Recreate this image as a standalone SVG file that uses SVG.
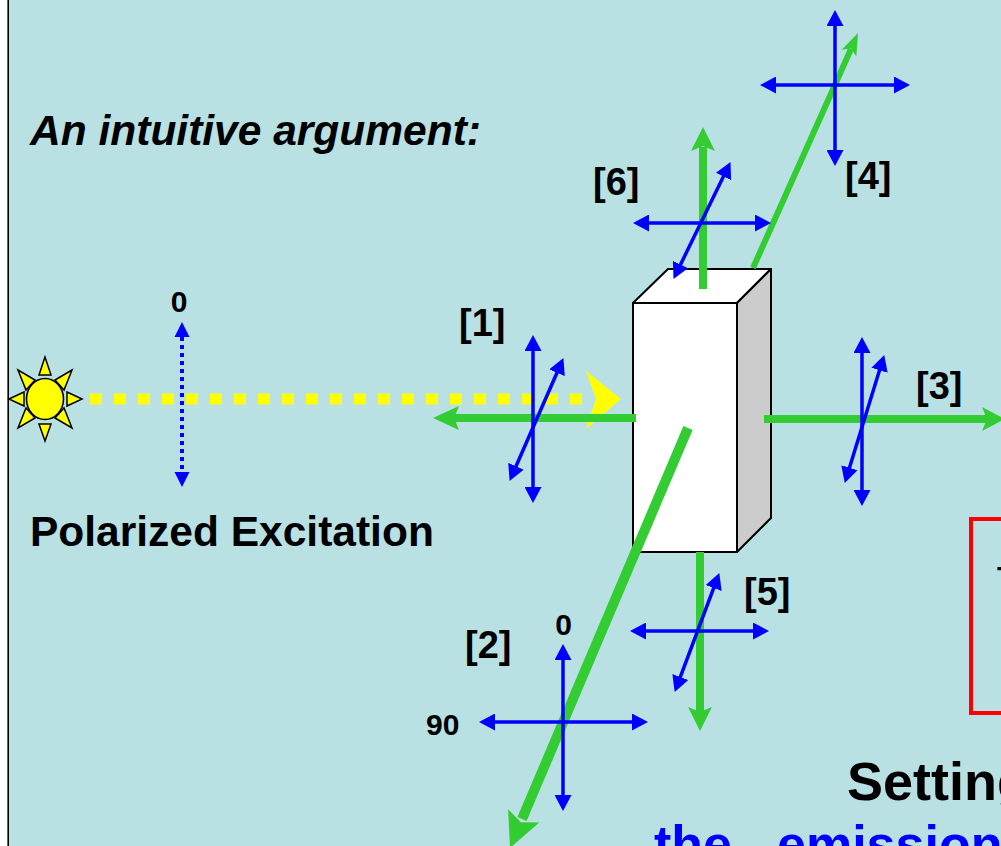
<svg xmlns="http://www.w3.org/2000/svg" width="1001" height="846" viewBox="0 0 1001 846">
  <defs>
    <style>
      .bg { fill: #B9E0E3; }
      .txt { font-family: "Liberation Sans", Arial, sans-serif; font-weight: bold; fill: #000; }
      .lbl { font-size: 38px; }
      .num { font-size: 30px; }
      .pol { stroke: #0000FF; stroke-width: 3.5; fill: none; marker-start: url(#bh); marker-end: url(#bh); }
      .beam { stroke: #33CC33; fill: none; stroke-linecap: butt; }
      .head { fill: #33CC33; }
      .ray { fill: #FFFF00; stroke: #000; stroke-width: 1.5; stroke-linejoin: miter; }
    </style>
    <!-- blue double-headed polarisation arrowhead -->
    <marker id="bh" markerUnits="userSpaceOnUse" viewBox="0 -8.5 16 17" markerWidth="16" markerHeight="17" refX="6" refY="0" orient="auto-start-reverse">
      <path d="M0,-8.5 L16,0 L0,8.5 z" fill="#0000FF"/>
    </marker>
  </defs>

  <!-- page -->
  <rect x="0" y="0" width="1001" height="846" fill="#FFFFFF"/>
  <rect class="bg" x="8" y="0" width="993" height="846"/>
  <line x1="8.2" y1="0" x2="8.2" y2="846" stroke="#000" stroke-width="1.6"/>

  <text class="txt" x="30" y="145" font-size="42.5" font-style="italic">An intuitive argument:</text>

  <!-- light source -->
  <g id="sun">
    <polygon class="ray" points="45,357 39,375 51,375"/>
    <polygon class="ray" points="45,441 39,424 51,424"/>
    <polygon class="ray" points="9,399 24,392 24,406"/>
    <polygon class="ray" points="82,399 67,392 67,406"/>
    <polygon class="ray" points="18,370 35,380 26,390"/>
    <polygon class="ray" points="72,370 55,380 64,390"/>
    <polygon class="ray" points="18,428 26,408 35,418"/>
    <polygon class="ray" points="72,428 64,408 55,418"/>
    <ellipse cx="45" cy="399" rx="18.5" ry="20.5" fill="#FFFF00" stroke="#000" stroke-width="1.6"/>
  </g>

  <!-- excitation polariser (vertical, dotted) -->
  <g id="excitation-polarizer">
    <line x1="182" y1="337" x2="182" y2="472" stroke="#0000FF" stroke-width="4" stroke-dasharray="4 4"/>
    <polygon points="182,322 174.5,337 189.5,337" fill="#0000FF"/>
    <polygon points="182,487 174.5,472 189.5,472" fill="#0000FF"/>
    <text class="txt num" x="179" y="312" text-anchor="middle">0</text>
  </g>

  <text class="txt" x="30" y="546" font-size="42.5">Polarized Excitation</text>

  <!-- excitation beam -->
  <g id="excitation-beam">
    <line x1="90" y1="399" x2="583" y2="399" stroke="#FFFF00" stroke-width="11" stroke-dasharray="12 12"/>
    <polygon points="586,371 621,399 586,429 596,399" fill="#FFFF00"/>
  </g>

  <!-- sample cuvette -->
  <g id="cuvette" stroke="#000" stroke-width="2" stroke-linejoin="round">
    <polygon points="633,303 668,269 771,269 737,303" fill="#FFFFFF"/>
    <polygon points="737,303 771,269 771,518 737,552" fill="#CCCCCC"/>
    <rect x="633" y="303" width="104" height="249" fill="#FFFFFF"/>
  </g>

  <!-- emission beams -->
  <g id="connectors">
    <!-- [1] back toward source -->
    <line class="beam" x1="636" y1="418" x2="452" y2="418" stroke-width="8"/>
    <polygon class="head" points="433,418 459,406 454,418 459,430"/>
    <!-- [3] to the right -->
    <line class="beam" x1="764" y1="419" x2="988" y2="419" stroke-width="8"/>
    <polygon class="head" points="1005,419 982,407 987,419 982,431"/>
    <!-- [5] downward -->
    <line class="beam" x1="700" y1="552" x2="700" y2="712" stroke-width="8"/>
    <polygon class="head" points="700,731 688,707 700,712 712,707"/>
    <!-- [6] upward -->
    <line class="beam" x1="703" y1="289" x2="703" y2="147" stroke-width="8"/>
    <polygon class="head" points="703,127 691,151 703,146 715,151"/>
    <!-- [4] up and right -->
    <line class="beam" x1="753" y1="268" x2="851" y2="49" stroke-width="6"/>
    <polygon class="head" points="858,33 856.3,56.4 851.1,48.5 841.7,49.8"/>
    <!-- [2] toward the viewer -->
    <line class="beam" x1="688" y1="428" x2="522" y2="819" stroke-width="10"/>
    <polygon class="head" points="510,848 508.1,809.2 520.9,822.2 539.3,822.4"/>
  </g>

  <!-- analyser crosses -->
  <g id="pol-1">
    <line class="pol" x1="533" y1="345" x2="533" y2="493"/>
    <line class="pol" x1="559.4" y1="367.2" x2="513.6" y2="471.8"/>
    <text class="txt lbl" x="459" y="336">[1]</text>
  </g>
  <g id="pol-2">
    <line class="pol" x1="563" y1="654" x2="563" y2="801"/>
    <line class="pol" x1="489" y1="722" x2="638" y2="722"/>
    <text class="txt lbl" x="465" y="658">[2]</text>
    <text class="txt num" x="563.5" y="635" text-anchor="middle">0</text>
    <text class="txt num" x="426" y="735">90</text>
  </g>
  <g id="pol-3">
    <line class="pol" x1="862" y1="347" x2="862" y2="496"/>
    <line class="pol" x1="881.3" y1="364.6" x2="847.7" y2="473.4"/>
    <text class="txt lbl" x="916" y="399">[3]</text>
  </g>
  <g id="pol-4">
    <line class="pol" x1="835" y1="20" x2="835" y2="156"/>
    <line class="pol" x1="770" y1="85" x2="900" y2="85"/>
    <text class="txt lbl" x="845" y="189">[4]</text>
  </g>
  <g id="pol-5">
    <line class="pol" x1="640" y1="631" x2="759" y2="631"/>
    <line class="pol" x1="715.8" y1="582.4" x2="678.2" y2="682.6"/>
    <text class="txt lbl" x="744" y="605">[5]</text>
  </g>
  <g id="pol-6">
    <line class="pol" x1="643" y1="223" x2="761" y2="223"/>
    <line class="pol" x1="726.1" y1="171.1" x2="677.9" y2="269.9"/>
    <text class="txt lbl" x="593" y="195">[6]</text>
  </g>

  <!-- note box -->
  <g id="note">
    <rect x="971" y="519" width="60" height="194" fill="none" stroke="#FF0000" stroke-width="4"/>
    <text class="txt" x="997" y="587" font-size="30">T</text>
  </g>

  <text class="txt" x="847" y="800" font-size="54">Setting</text>
  <text class="txt" y="862" font-size="52" style="fill:#0000FF"><tspan x="654">the</tspan><tspan x="777">emission</tspan></text>
</svg>
